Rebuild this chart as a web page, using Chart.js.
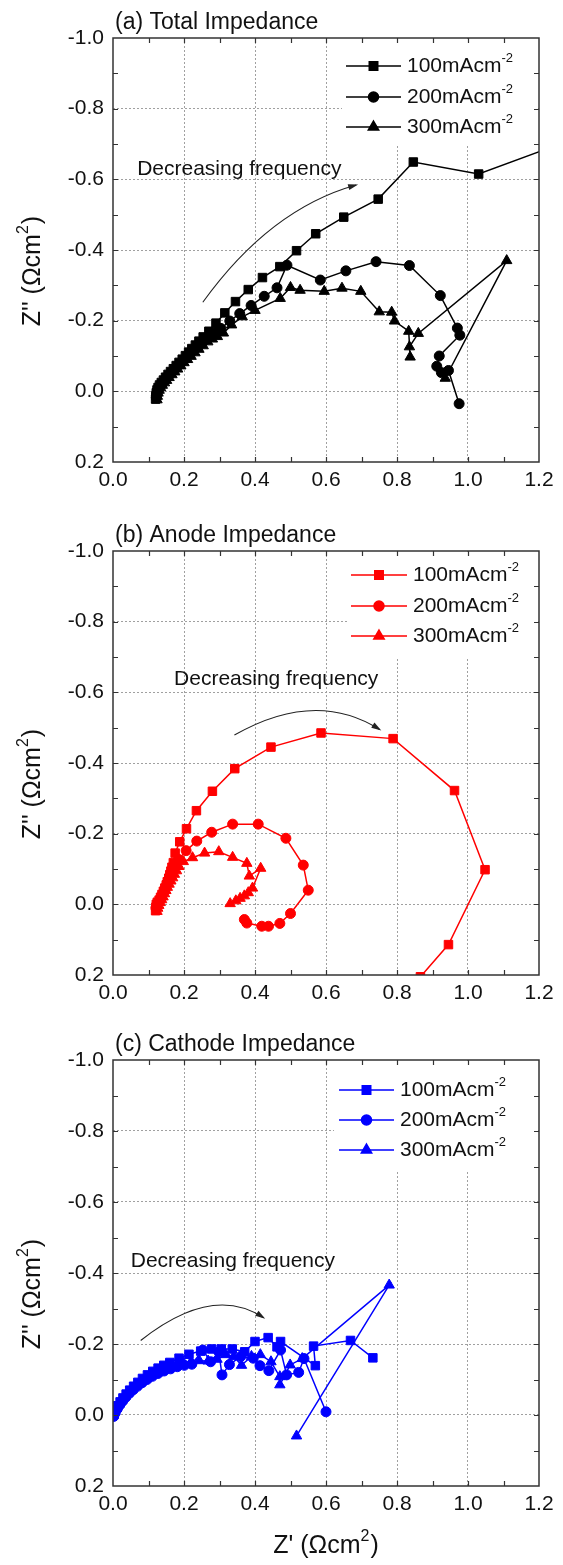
<!DOCTYPE html>
<html>
<head>
<meta charset="utf-8">
<script src="https://cdn.jsdelivr.net/npm/chart.js@4.4.0/dist/chart.umd.min.js"></script>
<style>
body { margin: 0; background: #fff; }
.panel { position: absolute; left: 0; width: 563px; }
</style>
</head>
<body>
<div class="panel" style="top:0;height:511px"><canvas id="total"></canvas></div>
<div class="panel" style="top:511px;height:511px"><canvas id="anode"></canvas></div>
<div class="panel" style="top:1022px;height:543px"><canvas id="cathode"></canvas></div>
<script>
const currents = ['100', '200', '300'];
const markers = ['rect', 'circle', 'triangle'];
const markerSizes = [6, 5, 6];

// (a) total
const totalRe100 = [0.120,0.121,0.122,0.124,0.127,0.131,0.136,0.142,0.148,0.155,0.162,0.170,0.178,0.186,0.195,0.204,0.213,0.222,0.232,0.242,0.254,0.270,0.290,0.315,0.345,0.381,0.421,0.470,0.517,0.571,0.650,0.747,0.846,1.030,1.330];
const totalIm100 = [0.022,0.012,0.004,-0.004,-0.011,-0.018,-0.025,-0.032,-0.040,-0.048,-0.056,-0.064,-0.073,-0.082,-0.091,-0.101,-0.111,-0.121,-0.131,-0.142,-0.154,-0.170,-0.193,-0.222,-0.254,-0.288,-0.322,-0.353,-0.398,-0.446,-0.493,-0.544,-0.649,-0.615,-0.726];
const totalRe200 = [0.122,0.123,0.125,0.128,0.132,0.137,0.143,0.149,0.156,0.163,0.171,0.179,0.188,0.197,0.206,0.216,0.226,0.237,0.249,0.262,0.276,0.290,0.304,0.329,0.357,0.389,0.426,0.462,0.490,0.584,0.656,0.741,0.835,0.922,0.970,0.977,0.919,0.912,0.925,0.945,0.975];
const totalIm200 = [0.018,0.008,0.000,-0.007,-0.014,-0.021,-0.028,-0.035,-0.043,-0.051,-0.059,-0.068,-0.077,-0.086,-0.095,-0.105,-0.115,-0.125,-0.136,-0.147,-0.158,-0.167,-0.178,-0.199,-0.220,-0.243,-0.269,-0.293,-0.357,-0.315,-0.341,-0.367,-0.356,-0.271,-0.179,-0.159,-0.100,-0.071,-0.053,-0.059,0.035];
const totalRe300 = [0.124,0.125,0.127,0.130,0.134,0.139,0.145,0.151,0.158,0.166,0.174,0.182,0.191,0.200,0.210,0.220,0.231,0.242,0.254,0.267,0.280,0.294,0.311,0.334,0.364,0.400,0.471,0.500,0.527,0.595,0.645,0.698,0.750,0.785,0.793,0.833,0.837,0.835,0.860,1.109,0.936];
const totalIm300 = [0.024,0.014,0.005,-0.003,-0.010,-0.017,-0.024,-0.031,-0.039,-0.047,-0.055,-0.063,-0.072,-0.081,-0.090,-0.099,-0.109,-0.119,-0.129,-0.140,-0.148,-0.155,-0.165,-0.188,-0.211,-0.229,-0.263,-0.294,-0.286,-0.283,-0.292,-0.283,-0.225,-0.224,-0.199,-0.170,-0.097,-0.126,-0.164,-0.370,-0.037];

// (b) anode
const anodeRe100 = [0.120,0.121,0.122,0.125,0.130,0.134,0.138,0.142,0.146,0.150,0.153,0.157,0.160,0.163,0.166,0.170,0.175,0.188,0.207,0.235,0.280,0.343,0.445,0.586,0.789,0.962,1.048,0.945,0.866];
const anodeIm100 = [0.018,0.008,0.000,-0.006,-0.012,-0.020,-0.028,-0.037,-0.046,-0.055,-0.064,-0.074,-0.084,-0.094,-0.105,-0.118,-0.145,-0.177,-0.214,-0.265,-0.320,-0.384,-0.445,-0.485,-0.469,-0.322,-0.098,0.114,0.205];
const anodeRe200 = [0.121,0.124,0.128,0.133,0.137,0.141,0.145,0.149,0.153,0.157,0.161,0.166,0.171,0.177,0.185,0.206,0.236,0.278,0.337,0.409,0.487,0.536,0.550,0.500,0.470,0.438,0.419,0.377,0.370];
const anodeIm200 = [0.010,0.002,-0.006,-0.014,-0.023,-0.032,-0.041,-0.050,-0.060,-0.070,-0.080,-0.090,-0.101,-0.113,-0.127,-0.152,-0.179,-0.204,-0.227,-0.227,-0.187,-0.111,-0.040,0.026,0.054,0.062,0.062,0.053,0.043];
const anodeRe300 = [0.124,0.126,0.129,0.133,0.137,0.141,0.145,0.149,0.153,0.158,0.163,0.168,0.173,0.179,0.186,0.198,0.224,0.258,0.298,0.337,0.377,0.384,0.416,0.393,0.381,0.370,0.358,0.346,0.330];
const anodeIm300 = [0.020,0.011,0.003,-0.005,-0.013,-0.021,-0.030,-0.039,-0.048,-0.057,-0.066,-0.075,-0.085,-0.095,-0.107,-0.121,-0.132,-0.145,-0.149,-0.133,-0.116,-0.080,-0.102,-0.046,-0.033,-0.024,-0.017,-0.010,-0.002];

// (c) cathode
const cathodeRe100 = [0.002,0.007,0.013,0.020,0.028,0.037,0.047,0.058,0.070,0.083,0.097,0.112,0.127,0.143,0.160,0.186,0.214,0.247,0.278,0.305,0.336,0.371,0.400,0.437,0.462,0.472,0.570,0.565,0.669,0.732];
const cathodeIm100 = [-0.003,-0.014,-0.026,-0.037,-0.048,-0.059,-0.070,-0.081,-0.092,-0.103,-0.113,-0.123,-0.132,-0.140,-0.148,-0.160,-0.171,-0.180,-0.186,-0.186,-0.186,-0.178,-0.207,-0.218,-0.192,-0.207,-0.139,-0.194,-0.210,-0.161];
const cathodeRe200 = [0.002,0.006,0.012,0.019,0.027,0.036,0.046,0.057,0.069,0.082,0.096,0.111,0.127,0.144,0.162,0.181,0.201,0.222,0.253,0.275,0.298,0.307,0.328,0.360,0.395,0.414,0.439,0.472,0.489,0.523,0.538,0.600];
const cathodeIm200 = [0.004,-0.006,-0.017,-0.028,-0.039,-0.050,-0.061,-0.071,-0.081,-0.091,-0.100,-0.109,-0.117,-0.124,-0.130,-0.136,-0.140,-0.143,-0.183,-0.150,-0.178,-0.113,-0.142,-0.165,-0.160,-0.139,-0.125,-0.183,-0.113,-0.120,-0.159,-0.009];
const cathodeRe300 = [0.001,0.005,0.010,0.017,0.025,0.034,0.044,0.055,0.067,0.080,0.094,0.109,0.125,0.142,0.160,0.179,0.199,0.220,0.243,0.268,0.293,0.318,0.340,0.362,0.390,0.415,0.445,0.470,0.470,0.499,0.533,0.778,0.517];
const cathodeIm300 = [0.001,-0.009,-0.020,-0.031,-0.042,-0.053,-0.064,-0.074,-0.084,-0.094,-0.103,-0.112,-0.120,-0.128,-0.135,-0.141,-0.146,-0.150,-0.153,-0.152,-0.157,-0.170,-0.165,-0.140,-0.165,-0.170,-0.150,-0.108,-0.085,-0.141,-0.159,-0.366,0.059];

const FONT = '"Liberation Sans", Arial, Helvetica, sans-serif';

function pts(re, im) {
    return re.map((x, i) => ({ x: x, y: im[i] }));
}

function tickLabel(v) {
    const n = Math.round(v * 10);
    return n % 2 === 0 ? (n / 10).toFixed(1) : '';
}

function gridColor(lo, hi) {
    return (c) => {
        const n = Math.round(c.tick.value * 10);
        return (n % 2 === 0 && n !== lo && n !== hi) ? '#a0a0a0' : 'rgba(0,0,0,0)';
    };
}

function supText(ctx, x, y, parts, size) {
    // parts: [text, isSup]
    let cx = x;
    parts.forEach(p => {
        ctx.font = (p[1] ? Math.round(size * 0.62) : size) + 'px ' + FONT;
        ctx.fillText(p[0], cx, p[1] ? y - size * 0.38 : y);
        cx += ctx.measureText(p[0]).width + (p[1] ? 1 : 0);
    });
}

function partsWidth(ctx, parts, size) {
    let w = 0;
    parts.forEach(p => {
        ctx.font = (p[1] ? Math.round(size * 0.62) : size) + 'px ' + FONT;
        w += ctx.measureText(p[0]).width + (p[1] ? 1 : 0);
    });
    return w;
}

const decor = {
    id: 'decor',
    afterDraw(chart, args, o) {
        const ctx = chart.ctx, a = chart.chartArea;
        const xs = chart.scales.x, ys = chart.scales.y;
        ctx.save();
        ctx.textBaseline = 'middle';
        ctx.textAlign = 'left';

        // legend
        ctx.fillStyle = '#fff';
        ctx.fillRect(o.legendLeft, a.top + 1, a.right - o.legendLeft - 1, o.legendHeight);
        chart.data.datasets.forEach((ds, i) => {
            const y = a.top + o.rows[i];
            ctx.strokeStyle = ds.borderColor;
            ctx.lineWidth = 1.5;
            ctx.beginPath();
            ctx.moveTo(o.lineX[0], y);
            ctx.lineTo(o.lineX[1], y);
            ctx.stroke();
            ctx.fillStyle = ds.backgroundColor;
            Chart.helpers.drawPoint(ctx, { pointStyle: ds.pointStyle, radius: ds.pointRadius, rotation: 0, borderWidth: 1 }, (o.lineX[0] + o.lineX[1]) / 2, y);
            ctx.fillStyle = '#111';
            supText(ctx, o.lineX[1] + 6, y, [[currents[i] + 'mAcm', false], ['-2', true]], 21);
        });

        // frame and inward ticks
        ctx.strokeStyle = '#333';
        ctx.lineWidth = 1.5;
        ctx.strokeRect(a.left, a.top, a.right - a.left, a.bottom - a.top);
        ctx.lineWidth = 1.2;
        ctx.beginPath();
        xs.ticks.forEach(t => {
            const px = Math.round(xs.getPixelForValue(t.value)) + 0.5;
            if (px < a.left + 2 || px > a.right - 2) return;
            ctx.moveTo(px, a.bottom); ctx.lineTo(px, a.bottom - 5);
            ctx.moveTo(px, a.top); ctx.lineTo(px, a.top + 5);
        });
        ys.ticks.forEach(t => {
            const py = Math.round(ys.getPixelForValue(t.value)) + 0.5;
            if (py < a.top + 2 || py > a.bottom - 2) return;
            ctx.moveTo(a.left, py); ctx.lineTo(a.left + 5, py);
            ctx.moveTo(a.right, py); ctx.lineTo(a.right - 5, py);
        });
        ctx.stroke();

        // note and arrow
        ctx.fillStyle = '#111';
        ctx.font = '21px ' + FONT;
        ctx.fillText('Decreasing frequency', xs.getPixelForValue(o.note[0]), ys.getPixelForValue(o.note[1]));
        const p0 = [xs.getPixelForValue(o.arrow[0]), ys.getPixelForValue(o.arrow[1])];
        const pc = [xs.getPixelForValue(o.arrow[2]), ys.getPixelForValue(o.arrow[3])];
        const p1 = [xs.getPixelForValue(o.arrow[4]), ys.getPixelForValue(o.arrow[5])];
        ctx.strokeStyle = '#222';
        ctx.lineWidth = 1.1;
        ctx.beginPath();
        ctx.moveTo(p0[0], p0[1]);
        ctx.quadraticCurveTo(pc[0], pc[1], p1[0], p1[1]);
        ctx.stroke();
        const ang = Math.atan2(p1[1] - pc[1], p1[0] - pc[0]);
        const c = Math.cos(ang), s = Math.sin(ang);
        ctx.fillStyle = '#222';
        ctx.beginPath();
        ctx.moveTo(p1[0] + 2 * c, p1[1] + 2 * s);
        ctx.lineTo(p1[0] - 8 * c + 3 * s, p1[1] - 8 * s - 3 * c);
        ctx.lineTo(p1[0] - 8 * c - 3 * s, p1[1] - 8 * s + 3 * c);
        ctx.closePath();
        ctx.fill();

        // panel title
        ctx.fillStyle = '#111';
        ctx.font = '23px ' + FONT;
        ctx.fillText(o.title, a.left + 2, a.top - 15);

        // y axis title
        const yParts = [["Z'' (\u03A9cm", false], ['2', true], [')', false]];
        ctx.save();
        ctx.translate(33, (a.top + a.bottom) / 2 + 21);
        ctx.rotate(-Math.PI / 2);
        supText(ctx, -partsWidth(ctx, yParts, 25) / 2, 0, yParts, 25);
        ctx.restore();

        if (o.xTitle) {
            const xParts = [["Z' (\u03A9cm", false], ['2', true], [')', false]];
            supText(ctx, (a.left + a.right) / 2 - partsWidth(ctx, xParts, 25) / 2, o.xTitleY, xParts, 25);
        }
        ctx.restore();
    }
};

function makeChart(id, color, series, o) {
    const datasets = series.map((s, i) => ({
        label: currents[i] + 'mAcm\u207B\u00B2',
        data: pts(s[0], s[1]),
        showLine: true,
        borderColor: color,
        backgroundColor: color,
        borderWidth: 1.5,
        pointStyle: markers[i],
        pointRadius: markerSizes[i],
        pointBorderWidth: 1
    }));
    const tickFont = { size: 21, family: FONT };
    return new Chart(document.getElementById(id), {
        type: 'scatter',
        data: { datasets: datasets },
        options: {
            animation: false,
            responsive: true,
            maintainAspectRatio: false,
            layout: { padding: { top: o.top, right: 24, left: 0, bottom: 0 } },
            plugins: {
                legend: { display: false },
                tooltip: { enabled: false },
                decor: o
            },
            scales: {
                x: {
                    type: 'linear', min: 0, max: 1.2,
                    afterFit: (s) => { s.height = o.xH; },
                    ticks: { stepSize: 0.1, autoSkip: false, maxRotation: 0, padding: 6, color: '#111', font: tickFont, callback: tickLabel },
                    grid: { color: gridColor(0, 12), drawTicks: false, lineWidth: 1 },
                    border: { display: false, dash: [2, 2] }
                },
                y: {
                    type: 'linear', min: -1.0, max: 0.2, reverse: true,
                    afterFit: (s) => { s.width = 113; },
                    ticks: { stepSize: 0.1, autoSkip: false, padding: 9, color: '#111', font: tickFont, callback: tickLabel },
                    grid: { color: gridColor(-10, 2), drawTicks: false, lineWidth: 1 },
                    border: { display: false, dash: [2, 2] }
                }
            }
        },
        plugins: [decor]
    });
}

makeChart('total', '#000000',
    [[totalRe100, totalIm100], [totalRe200, totalIm200], [totalRe300, totalIm300]],
    { title: '(a) Total Impedance', top: 38, xH: 49,
      legendLeft: 342, legendHeight: 106, rows: [28, 59, 89], lineX: [346, 401],
      note: [0.068, -0.628], arrow: [0.253, -0.252, 0.442, -0.516, 0.685, -0.584] });

makeChart('anode', '#ff0000',
    [[anodeRe100, anodeIm100], [anodeRe200, anodeIm200], [anodeRe300, anodeIm300]],
    { title: '(b) Anode Impedance', top: 40, xH: 47,
      legendLeft: 347, legendHeight: 106, rows: [24, 55, 85], lineX: [351, 407],
      note: [0.172, -0.636], arrow: [0.342, -0.479, 0.57, -0.61, 0.751, -0.495] });

makeChart('cathode', '#0000ff',
    [[cathodeRe100, cathodeIm100], [cathodeRe200, cathodeIm200], [cathodeRe300, cathodeIm300]],
    { title: '(c) Cathode Impedance', top: 38, xH: 79,
      legendLeft: 334, legendHeight: 110, rows: [30, 60, 90], lineX: [339, 394],
      note: [0.050, -0.433], arrow: [0.078, -0.210, 0.28, -0.37, 0.424, -0.274],
      xTitle: true, xTitleY: 524 });
</script>
</body>
</html>
